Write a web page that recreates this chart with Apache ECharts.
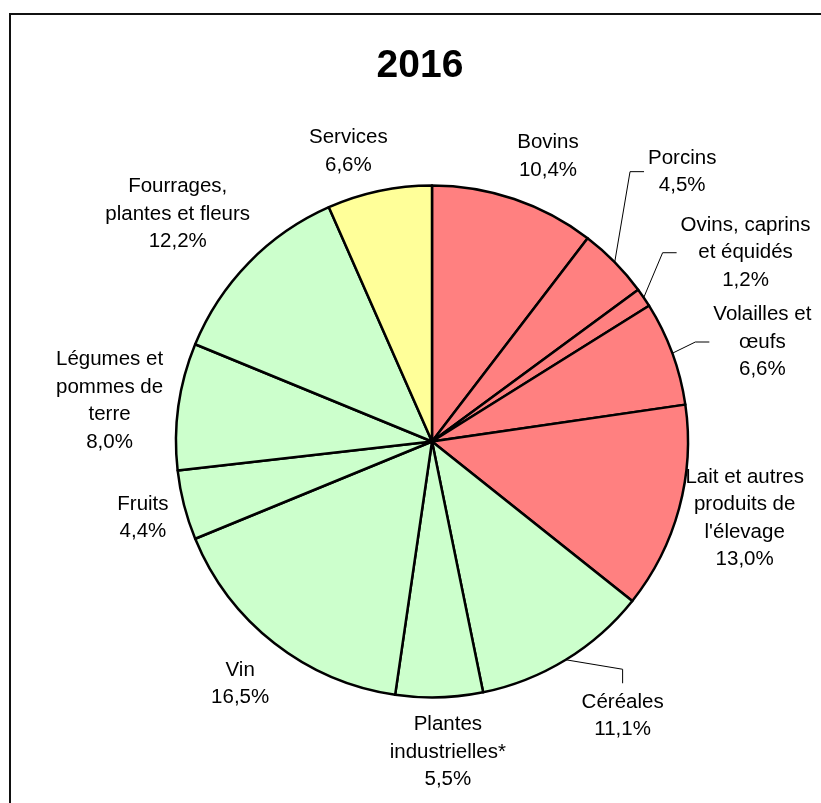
<!DOCTYPE html>
<html>
<head>
<meta charset="utf-8">
<script src="https://cdn.jsdelivr.net/npm/echarts@6/dist/echarts.min.js"></script>
<style>
  html, body { margin: 0; padding: 0; background: #fff; }
  #chart { width: 821px; height: 803px; }
</style>
</head>
<body>
<div id="chart"></div>
<script>
// Répartition 2016, dans le sens horaire depuis midi
const categories = [
  'Bovins',
  'Porcins',
  'Ovins, caprins\net équidés',
  'Volailles et\nœufs',
  "Lait et autres\nproduits de\nl'élevage",
  'Céréales',
  'Plantes\nindustrielles*',
  'Vin',
  'Fruits',
  'Légumes et\npommes de\nterre',
  'Fourrages,\nplantes et fleurs',
  'Services'
];
const shares = [10.4, 4.5, 1.2, 6.6, 13.0, 11.1, 5.5, 16.5, 4.4, 8.0, 12.2, 6.6];
const groups = ['animal', 'animal', 'animal', 'animal', 'animal',
  'vegetal', 'vegetal', 'vegetal', 'vegetal', 'vegetal', 'vegetal', 'service'];
const chartTitle = '2016';

// styles
const groupColor = { animal: '#FF8080', vegetal: '#CCFFCC', service: '#FFFF99' };
const withLeader = [false, true, true, true, false, true, false, false, false, false, false, false];
// distance du centre de l'étiquette et petit décalage angulaire (degrés)
const labelDist = [308, 368, 366, 345, 322, 334, 311, 309, 299, 325, 341, 302];
const labelTurn = [3.4, -2.7, 3.15, 3.4, -1.3, -3.3, -1.3, 0.4, -0.4, -0.7, -2.5, -4.2];

const cx = 432, cy = 441.5, R = 256;

const total = shares.reduce((s, v) => s + v, 0);
const midDeg = [];
let acc = 0;
shares.forEach(v => {
  midDeg.push((acc + v / 2) / total * 360);
  acc += v;
});

const chart = echarts.init(document.getElementById('chart'));

const option = {
  animation: false,
  backgroundColor: '#fff',
  graphic: [
    {
      type: 'rect',
      shape: { x: 10, y: 14, width: 1000, height: 1000 },
      style: { fill: 'none', stroke: '#111', lineWidth: 2 },
      silent: true
    },
    {
      type: 'text',
      x: 420,
      y: 66,
      style: {
        text: chartTitle,
        font: 'bold 39px "Liberation Sans", Arial, sans-serif',
        fill: '#000',
        align: 'center',
        verticalAlign: 'middle'
      },
      silent: true
    }
  ],
  series: [
    {
      type: 'pie',
      center: [cx, cy],
      radius: [0, R],
      startAngle: 90,
      clockwise: true,
      avoidLabelOverlap: false,
      itemStyle: { borderColor: '#000', borderWidth: 2.5 },
      label: {
        show: true,
        position: 'outside',
        color: '#000',
        fontFamily: '"Liberation Sans", Arial, sans-serif',
        fontSize: 20.5,
        lineHeight: 27.5,
        formatter: (p) => p.name + '\n' + p.value.toFixed(1).replace('.', ',') + '%'
      },
      labelLine: {
        show: false,
        smooth: false,
        lineStyle: { color: '#000', width: 1 }
      },
      labelLayout: function (p) {
        const i = p.dataIndex;
        const a = (midDeg[i] + labelTurn[i]) * Math.PI / 180;
        const x = cx + labelDist[i] * Math.sin(a);
        const y = cy - labelDist[i] * Math.cos(a);
        const out = { x: x, y: y, align: 'center', verticalAlign: 'middle' };
        if (withLeader[i]) {
          const m = midDeg[i] * Math.PI / 180;
          const start = [cx + R * Math.sin(m), cy - R * Math.cos(m)];
          const w = p.labelRect.width, h = p.labelRect.height;
          let end, elbow;
          if (y > cy && Math.abs(x - cx) < y - cy) {
            end = [x, y - h / 2 - 5];
            elbow = [x, end[1] - 14];
          } else {
            end = [x - w / 2 - 4, y];
            elbow = [end[0] - 14, y];
          }
          out.labelLinePoints = [start, elbow, end];
        }
        return out;
      },
      emphasis: { disabled: true },
      data: categories.map((name, i) => ({
        name: name,
        value: shares[i],
        itemStyle: { color: groupColor[groups[i]] },
        labelLine: { show: withLeader[i] }
      }))
    }
  ]
};

chart.setOption(option);
</script>
</body>
</html>
